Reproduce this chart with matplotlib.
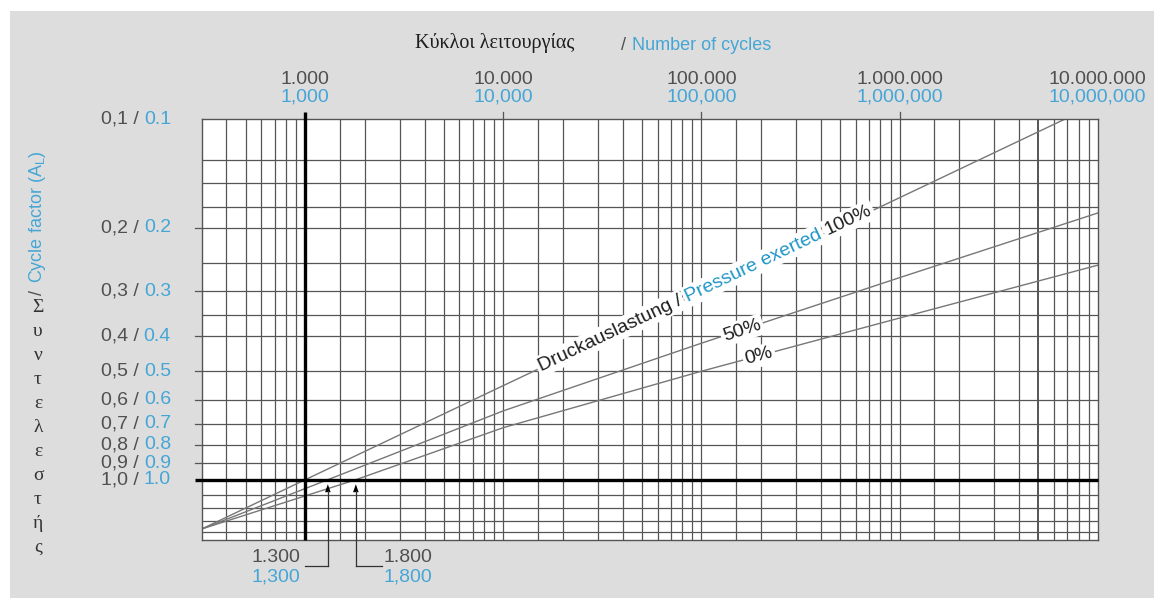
import matplotlib
matplotlib.use('Agg')
import matplotlib.pyplot as plt
import numpy as np
from matplotlib.patches import Rectangle, Polygon
from matplotlib.lines import Line2D
from matplotlib.transforms import blended_transform_factory

# ---------------- data ----------------
cycles_100 = [300, 1000, 10000, 100000, 1000000, 6800000]
factor_100 = [1.37, 1.00, 0.548, 0.301, 0.165, 0.100]
cycles_50 = [300, 1300, 10000, 100000, 1000000, 10000000]
factor_50 = [1.37, 1.00, 0.644, 0.418, 0.275, 0.182]
cycles_0 = [300, 1800, 10000, 100000, 1000000, 10000000]
factor_0 = [1.37, 1.00, 0.717, 0.500, 0.356, 0.254]

x_tick_values = [1e3, 1e4, 1e5, 1e6, 1e7]
x_labels_de = ['1.000', '10.000', '100.000', '1.000.000', '10.000.000']
x_labels_en = ['1,000', '10,000', '100,000', '1,000,000', '10,000,000']
x_grid_mantissa = [1, 1.5, 2, 3, 4, 5, 6, 7, 8, 9]
x_grid_decades = [100, 1000, 10000, 100000, 1000000]

y_tick_values = [0.1, 0.2, 0.3, 0.4, 0.5, 0.6, 0.7, 0.8, 0.9, 1.0]
y_labels_de = ['0,1', '0,2', '0,3', '0,4', '0,5', '0,6', '0,7', '0,8', '0,9', '1,0']
y_labels_en = ['0.1', '0.2', '0.3', '0.4', '0.5', '0.6', '0.7', '0.8', '0.9', '1.0']
y_grid = [0.13, 0.15, 0.175, 0.2, 0.25, 0.3, 0.35, 0.4, 0.5, 0.6, 0.7, 0.8,
          0.9, 1.0, 1.1, 1.2, 1.3, 1.4]

marked_cycles = [1300, 1800]
marked_de = ['1.300', '1.800']
marked_en = ['1,300', '1,800']

greek_letters = ['Σ', 'υ', 'ν', 'τ', 'ε', 'λ', 'ε', 'σ', 'τ', 'ή', 'ς']

# ---------------- style ----------------
GRAY_TXT = '#505050'
BLUE = '#45a6d6'
TEAL = '#1f95c6'
DARK = '#1e1e1e'
GRID = '#555555'
CURVE = '#777777'
SANS = ['Liberation Sans', 'DejaVu Sans']
SERIF = ['Liberation Serif', 'DejaVu Serif']
FS = 14

W, H = 1154, 598
fig = plt.figure(figsize=(W / 100, H / 100), dpi=100, facecolor='white')


def fx(x):
    return x / W


def fy(y):
    return 1 - y / H


fig.patches.append(Rectangle((fx(10), 0), 1 - fx(10), fy(11), transform=fig.transFigure,
                             facecolor='#dddddd', edgecolor='none', zorder=-10))

L, T, R, B = 201.7, 119.3, 1097.7, 540
ax = fig.add_axes([fx(L), fy(B), fx(R) - fx(L), fy(T) - fy(B)])
ax.set_facecolor('white')
ax.set_xscale('log')
ax.set_yscale('log')
ax.set_xlim(300, 1e7)
ax.set_ylim(1.47, 0.1)
ax.tick_params(which='both', length=0, labelbottom=False, labelleft=False)
ax.minorticks_off()
for s in ax.spines.values():
    s.set_color(GRID)
    s.set_linewidth(1.0)

# grid
for d in x_grid_decades:
    for m in x_grid_mantissa:
        v = d * m
        if 300 < v < 1e7:
            lw = 1.4 if v == 5e6 else 0.9
            ax.axvline(v, color=GRID, lw=lw, zorder=1)
for v in y_grid:
    ax.axhline(v, color=GRID, lw=0.9, zorder=1)

# thick reference lines
bt_top = blended_transform_factory(ax.transData, ax.transAxes)
bt_left = blended_transform_factory(ax.transAxes, ax.transData)
ax.plot([1000, 1000], [0, 1 + 7 / (B - T)], transform=bt_top, color='black', lw=2.4,
        clip_on=False, zorder=4, solid_capstyle='butt')
ax.plot([-7 / (R - L), 1], [1.0, 1.0], transform=bt_left, color='black', lw=2.4,
        clip_on=False, zorder=4, solid_capstyle='butt')

# ticks
for v in x_tick_values[1:-1]:
    ax.plot([v, v], [1, 1 + 7 / (B - T)], transform=bt_top, color=GRID, lw=0.9, clip_on=False)
for v in y_tick_values[1:-1]:
    ax.plot([-7 / (R - L), 0], [v, v], transform=bt_left, color=GRID, lw=0.9, clip_on=False)

# curves
for cx, cy in [(cycles_100, factor_100), (cycles_50, factor_50), (cycles_0, factor_0)]:
    ax.plot(cx, cy, color=CURVE, lw=1.0, zorder=2)

fig.canvas.draw()
renderer = fig.canvas.get_renderer()


def d2px(x, y):
    X, Y = ax.transData.transform((x, y))
    return X, H - Y


def width_px(s, **kw):
    t = fig.text(0, 0, s, **kw)
    w = t.get_window_extent(renderer).width
    t.remove()
    return w


# top tick labels
for v, de, en in zip(x_tick_values, x_labels_de, x_labels_en):
    px, _ = d2px(v, 1.0)
    fig.text(fx(px), fy(79), de, ha='center', va='center', color=GRAY_TXT, fontsize=FS, family=SANS)
    fig.text(fx(px), fy(97), en, ha='center', va='center', color=BLUE, fontsize=FS, family=SANS)

# left tick labels (gray German part + blue English part)
for v, de, en in zip(y_tick_values, y_labels_de, y_labels_en):
    _, py = d2px(1000, v)
    w_en = width_px(en, fontsize=FS, family=SANS)
    fig.text(fx(171), fy(py), en, ha='right', va='center', color=BLUE, fontsize=FS, family=SANS)
    fig.text(fx(171 - w_en - 5), fy(py), de + ' /', ha='right', va='center', color=GRAY_TXT,
             fontsize=FS, family=SANS)

# title
fig.text(fx(495), fy(43), 'Κύκλοι λειτουργίας', ha='center', va='center', color=DARK,
         fontsize=14.5, family=SERIF)
fig.text(fx(621), fy(45), '/', ha='left', va='center', color=GRAY_TXT, fontsize=13, family=SANS)
fig.text(fx(632), fy(45), 'Number of cycles', ha='left', va='center', color=BLUE, fontsize=13,
         family=SANS)

# vertical y-axis title
for i, ch in enumerate(greek_letters):
    fig.text(fx(38), fy(307 + 24 * i), ch, ha='center', va='center', color='#333333',
             fontsize=14, family=SERIF)
fig.text(fx(38), fy(295), '/', rotation=90, ha='center', va='bottom', color=GRAY_TXT,
         fontsize=13, family=SANS)
fig.text(fx(38), fy(283), 'Cycle factor (A$_\\mathregular{L}$)', rotation=90, ha='center',
         va='bottom', color=BLUE, fontsize=13, family=SANS)


# labels on curves
def value_on(cx, cy, x):
    return 10 ** np.interp(np.log10(x), np.log10(cx), np.log10(cy))


def local_angle(cx, cy, x):
    p1 = ax.transData.transform((x / 2, value_on(cx, cy, x / 2)))
    p2 = ax.transData.transform((x * 2, value_on(cx, cy, x * 2)))
    return np.degrees(np.arctan2(p2[1] - p1[1], p2[0] - p1[0]))


def rotated_label(parts, cx, cy, xc, fs, lift=0.0):
    ang = local_angle(cx, cy, xc)
    a = np.radians(ang)
    u = np.array([np.cos(a), np.sin(a)])
    n = np.array([-np.sin(a), np.cos(a)])
    gap = width_px('a a', fontsize=fs, family=SANS) - width_px('aa', fontsize=fs, family=SANS)
    widths = [width_px(s, fontsize=fs, family=SANS) for s, _ in parts]
    total = sum(widths) + gap * (len(parts) - 1)
    c = np.array(ax.transData.transform((xc, value_on(cx, cy, xc))))
    cap = 0.72 * fs * 100 / 72
    start = c - u * total / 2 - n * (cap / 2) + n * lift
    off = 0.0
    for (s, col), w in zip(parts, widths):
        p = start + u * off
        pf = fig.transFigure.inverted().transform(p)
        fig.text(pf[0], pf[1], s, rotation=ang, rotation_mode='anchor', ha='left',
                 va='baseline', color=col, fontsize=fs, family=SANS, zorder=5,
                 bbox=dict(boxstyle='square,pad=0.12', facecolor='white', edgecolor='none'))
        off += w + gap


rotated_label([('Druckauslastung /', DARK), ('Pressure exerted', TEAL), ('100%', DARK)],
              cycles_100, factor_100, 1.05e5, FS, lift=4)
rotated_label([('50%', DARK)], cycles_50, factor_50, 1.6e5, FS, lift=2)
rotated_label([('0%', DARK)], cycles_0, factor_0, 1.95e5, FS, lift=2)

# marked cycles (arrows to 1.0 line)
for k, (v, de, en) in enumerate(zip(marked_cycles, marked_de, marked_en)):
    px, py1 = d2px(v, 1.0)
    tip = py1 + 4.5
    fig.add_artist(Polygon([[fx(px), fy(tip)], [fx(px - 2.8), fy(tip + 8)],
                            [fx(px + 2.8), fy(tip + 8)]], closed=True, transform=fig.transFigure,
                           facecolor='black', edgecolor='none', zorder=6))
    fig.add_artist(Line2D([fx(px), fx(px)], [fy(tip + 7), fy(566)], transform=fig.transFigure,
                          color='#333333', lw=0.9, zorder=6))
    if k == 0:
        x_end = d2px(1000, 1.0)[0]
        fig.add_artist(Line2D([fx(px), fx(x_end)], [fy(566), fy(566)], transform=fig.transFigure,
                              color='#333333', lw=0.9, zorder=6))
        fig.text(fx(x_end - 5), fy(566), de, ha='right', va='bottom', color=GRAY_TXT,
                 fontsize=FS, family=SANS)
        fig.text(fx(x_end - 5), fy(569), en, ha='right', va='top', color=BLUE,
                 fontsize=FS, family=SANS)
    else:
        x_end = px + 26
        fig.add_artist(Line2D([fx(px), fx(x_end)], [fy(566), fy(566)], transform=fig.transFigure,
                              color='#333333', lw=0.9, zorder=6))
        fig.text(fx(x_end + 2), fy(566), de, ha='left', va='bottom', color=GRAY_TXT,
                 fontsize=FS, family=SANS)
        fig.text(fx(x_end + 2), fy(569), en, ha='left', va='top', color=BLUE,
                 fontsize=FS, family=SANS)

fig.savefig('out.png', dpi=100)
